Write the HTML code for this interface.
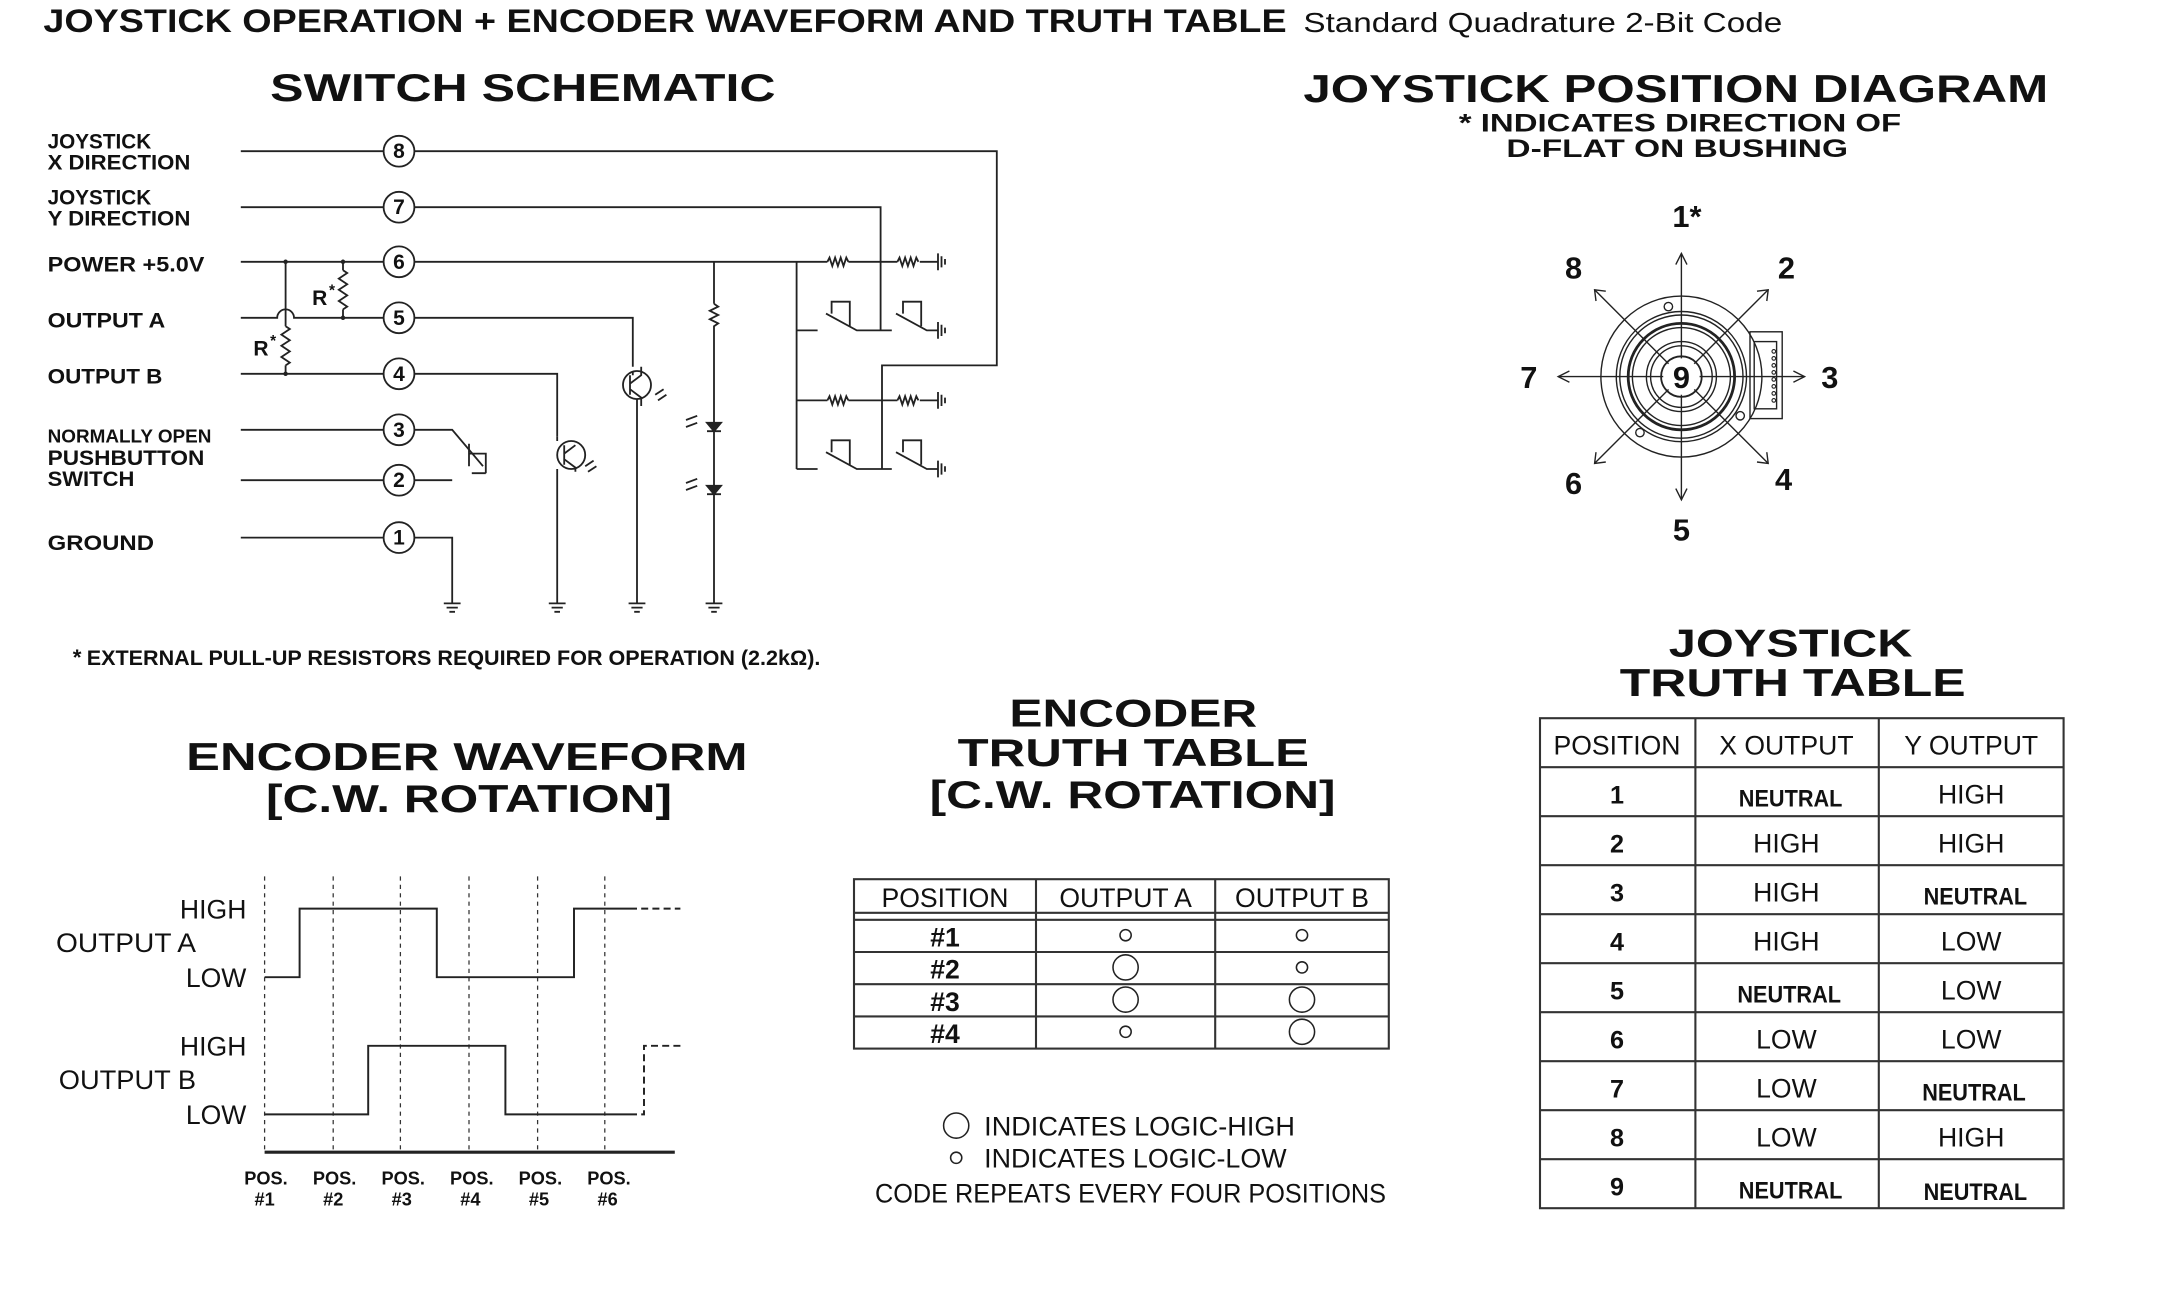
<!DOCTYPE html>
<html><head><meta charset="utf-8"><style>
html,body{margin:0;padding:0;background:#fff;}
svg{display:block;}
text{font-family:"Liberation Sans",sans-serif;fill:#111;}
</style></head><body>
<svg width="2174" height="1290" viewBox="0 0 1552.86 921.43" preserveAspectRatio="none" xmlns="http://www.w3.org/2000/svg">
<!-- Title -->
<text x="31" y="23" font-size="23" font-weight="bold" textLength="888" lengthAdjust="spacingAndGlyphs">JOYSTICK OPERATION + ENCODER WAVEFORM AND TRUTH TABLE</text>
<text x="931" y="23" font-size="20" textLength="342" lengthAdjust="spacingAndGlyphs">Standard Quadrature 2-Bit Code</text>

<text x="193" y="72" font-size="28" font-weight="bold" textLength="361" lengthAdjust="spacingAndGlyphs">SWITCH SCHEMATIC</text>
<text x="931" y="73" font-size="28" font-weight="bold" textLength="532" lengthAdjust="spacingAndGlyphs">JOYSTICK POSITION DIAGRAM</text>
<text x="1042" y="94" font-size="18" font-weight="bold" textLength="316" lengthAdjust="spacingAndGlyphs">* INDICATES DIRECTION OF</text>
<text x="1076" y="112" font-size="18" font-weight="bold" textLength="244" lengthAdjust="spacingAndGlyphs">D-FLAT ON BUSHING</text>

<g font-size="15" font-weight="bold">
<text x="34" y="106" textLength="74" lengthAdjust="spacingAndGlyphs">JOYSTICK</text>
<text x="34" y="121" textLength="102" lengthAdjust="spacingAndGlyphs">X DIRECTION</text>
<text x="34" y="146" textLength="74" lengthAdjust="spacingAndGlyphs">JOYSTICK</text>
<text x="34" y="161" textLength="102" lengthAdjust="spacingAndGlyphs">Y DIRECTION</text>
<text x="34" y="194" textLength="112" lengthAdjust="spacingAndGlyphs">POWER +5.0V</text>
<text x="34" y="234" textLength="84" lengthAdjust="spacingAndGlyphs">OUTPUT A</text>
<text x="34" y="274" textLength="82" lengthAdjust="spacingAndGlyphs">OUTPUT B</text>
<text x="34" y="316" font-size="13" textLength="117" lengthAdjust="spacingAndGlyphs">NORMALLY OPEN</text>
<text x="34" y="332" textLength="112" lengthAdjust="spacingAndGlyphs">PUSHBUTTON</text>
<text x="34" y="347" textLength="62" lengthAdjust="spacingAndGlyphs">SWITCH</text>
<text x="34" y="393" textLength="76" lengthAdjust="spacingAndGlyphs">GROUND</text>
<text x="181" y="254" textLength="12">R</text><text x="193" y="247" font-size="11">*</text>
<text x="223" y="218" textLength="12">R</text><text x="235" y="211" font-size="11">*</text>
<text x="52" y="475" font-size="16">*</text>
<text x="62" y="475" textLength="524" lengthAdjust="spacingAndGlyphs">EXTERNAL PULL-UP RESISTORS REQUIRED FOR OPERATION (2.2kΩ).</text>
</g>

<g stroke="#222" stroke-width="1.3" fill="none">
<path d="M172 108H274 M296 108H712V261H630V335"/>
<path d="M172 148H274 M296 148H629V236"/>
<path d="M172 187H274 M296 187H591 M606 187H641 M657 187H670"/>
<path d="M172 227H198 A6 6 0 0 1 210 227 H274 M296 227H452V262"/>
<path d="M172 267H274 M296 267H398V312"/>
<path d="M172 307H274 M296 307H323L345 333"/>
<path d="M172 343H274 M296 343H323"/>
<path d="M172 384H274 M296 384H323V431"/>
<path d="M204 187V233 M204 233l3 2-6 4 6 4-6 4 6 4-6 4 6 4-3 2 M204 261V267"/>
<path d="M245 187V193 M245 193l3 2-6 4 6 4-6 4 6 4-6 4 6 4-3 2 M245 221V227"/>
<path d="M335 317V333 M335 324H347V338 M337 338H347"/>
<circle cx="455" cy="275" r="10"/>
<path d="M452 265V268 M450 268V282 M450 274L458 268 V262 M450 278L458 284V290 M455 285V431"/>
<circle cx="408" cy="325" r="10"/>
<path d="M398 312V315 M403 318V332 M403 324L411 318 M403 328L411 334V337 M398 335V431"/>
<path d="M468 282l6-4 M470 286l6-4 M418 333l6-4 M420 337l6-4"/>
<path d="M510 187V217 M510 217l3 2-6 3 6 3-6 3 6 3-3 2V302 M510 308V347 M510 353V431"/>
<path d="M505 302h10l-5 6z M505 308h10 M505 347h10l-5 6z M505 353h10" fill="#222"/>
<path d="M490 300l8-3 M490 305l8-3 M490 345l8-3 M490 350l8-3"/>
<path d="M569 187V335 M569 236H584 M569 286H591 M606 286H641 M657 286H670 M569 335H584"/>
<path d="M591 187l1.5-3 2 6 2-6 2 6 2-6 2 6 2-6 1.5 3 M641 187l1.5-3 2 6 2-6 2 6 2-6 2 6 2-6 1.5 3"/>
<path d="M591 286l1.5-3 2 6 2-6 2 6 2-6 2 6 2-6 1.5 3 M641 286l1.5-3 2 6 2-6 2 6 2-6 2 6 2-6 1.5 3"/>
<path d="M590 224L612 236H637 M594 224V215.5H607V233 M640 224L662 236H670 M645 224V215.5H658V233"/>
<path d="M590 323L612 335H637 M594 323V314.5H607V332 M640 323L662 335H670 M645 323V314.5H658V332"/>
<path d="M670 181V193 M672.5 183V191 M675 185V189 M670 230V242 M672.5 232V240 M675 234V238 M670 280V292 M672.5 282V290 M675 284V288 M670 329V341 M672.5 331V339 M675 333V337"/>
<path d="M317 431H329 M319 434H327 M321 437H325 M392 431H404 M394 434H402 M396 437H400 M449 431H461 M451 434H459 M453 437H457 M504 431H516 M506 434H514 M508 437H512"/>
</g>
<g fill="#222">
<circle cx="204" cy="187" r="1.6"/><circle cx="245" cy="187" r="1.6"/><circle cx="245" cy="227" r="1.6"/><circle cx="204" cy="267" r="1.6"/>
</g>
<g stroke="#222" stroke-width="1.3" fill="#fff">
<circle cx="285" cy="108" r="11"/><circle cx="285" cy="148" r="11"/><circle cx="285" cy="187" r="11"/><circle cx="285" cy="227" r="11"/>
<circle cx="285" cy="267" r="11"/><circle cx="285" cy="307" r="11"/><circle cx="285" cy="343" r="11"/><circle cx="285" cy="384" r="11"/>
</g>
<g font-size="15" font-weight="bold">
<text x="285" y="113" text-anchor="middle">8</text><text x="285" y="153" text-anchor="middle">7</text><text x="285" y="192" text-anchor="middle">6</text><text x="285" y="232" text-anchor="middle">5</text>
<text x="285" y="272" text-anchor="middle">4</text><text x="285" y="312" text-anchor="middle">3</text><text x="285" y="348" text-anchor="middle">2</text><text x="285" y="389" text-anchor="middle">1</text>
</g>

<g stroke="#222" stroke-width="1" fill="none">
<rect x="1250" y="237" width="23" height="62"/>
<rect x="1253" y="244" width="16" height="48"/>
<circle cx="1201" cy="269" r="57.5"/>
<circle cx="1201" cy="269" r="46.5"/>
<circle cx="1201" cy="269" r="44"/>
<circle cx="1201" cy="269" r="38" stroke-width="2"/>
<circle cx="1201" cy="269" r="35"/>
<circle cx="1201" cy="269" r="25"/>
<circle cx="1201" cy="269" r="22"/>
<circle cx="1201" cy="269" r="14.5" stroke-width="1.3"/>
<circle cx="1191.7" cy="219" r="3"/><circle cx="1243" cy="297" r="3"/><circle cx="1171.4" cy="309" r="3"/>
<path d="M1201 181V357 M1113 269H1289 M1139 207L1263 331 M1263 207L1139 331"/>
<path d="M1197 189L1201 181L1205 189 M1197 349L1201 357L1205 349 M1121 265L1113 269L1121 273 M1281 265L1289 269L1281 273"/>
<path d="M1140 215L1139 207L1147 208 M1255 208L1263 207L1262 215 M1140 323L1139 331L1147 330 M1255 330L1263 331L1262 323"/>
</g>
<g fill="#fff" stroke="#222" stroke-width="0.8">
<circle cx="1267" cy="251" r="1.3"/><circle cx="1267" cy="256" r="1.3"/><circle cx="1267" cy="261" r="1.3"/><circle cx="1267" cy="266" r="1.3"/>
<circle cx="1267" cy="271" r="1.3"/><circle cx="1267" cy="276" r="1.3"/><circle cx="1267" cy="281" r="1.3"/><circle cx="1267" cy="286" r="1.3"/>
</g>
<circle cx="1201" cy="269" r="13" fill="#fff"/>
<g font-size="22" font-weight="bold">
<text x="1201" y="277" text-anchor="middle">9</text>
<text x="1205" y="162" text-anchor="middle">1*</text>
<text x="1124" y="199" text-anchor="middle">8</text>
<text x="1276" y="199" text-anchor="middle">2</text>
<text x="1092" y="277" text-anchor="middle">7</text>
<text x="1307" y="277" text-anchor="middle">3</text>
<text x="1124" y="353" text-anchor="middle">6</text>
<text x="1274" y="350" text-anchor="middle">4</text>
<text x="1201" y="386" text-anchor="middle">5</text>
</g>

<!-- Joystick truth table -->
<text x="1192" y="469" font-size="28" font-weight="bold" textLength="174" lengthAdjust="spacingAndGlyphs">JOYSTICK</text>
<text x="1157" y="497" font-size="28" font-weight="bold" textLength="247" lengthAdjust="spacingAndGlyphs">TRUTH TABLE</text>
<g transform="translate(0,-4)">
<g stroke="#333" stroke-width="1.5" fill="none">
<rect x="1100" y="517" width="374" height="350"/>
<path d="M1211 517V867 M1342 517V867"/>
<path d="M1100 552H1474 M1100 587H1474 M1100 622H1474 M1100 657H1474 M1100 692H1474 M1100 727H1474 M1100 762H1474 M1100 797H1474 M1100 832H1474"/>
</g>
<g font-size="19">
<text x="1155" y="543" text-anchor="middle">POSITION</text><text x="1276" y="543" text-anchor="middle">X OUTPUT</text><text x="1408" y="543" text-anchor="middle">Y OUTPUT</text>
<g font-weight="bold" font-size="18">
<text x="1155" y="578" text-anchor="middle">1</text><text x="1155" y="613" text-anchor="middle">2</text><text x="1155" y="648" text-anchor="middle">3</text>
<text x="1155" y="683" text-anchor="middle">4</text><text x="1155" y="718" text-anchor="middle">5</text><text x="1155" y="753" text-anchor="middle">6</text>
<text x="1155" y="788" text-anchor="middle">7</text><text x="1155" y="823" text-anchor="middle">8</text><text x="1155" y="858" text-anchor="middle">9</text>
</g>
<text x="1279" y="580" text-anchor="middle" font-weight="bold" font-size="17" textLength="74" lengthAdjust="spacingAndGlyphs">NEUTRAL</text>
<text x="1408" y="578" text-anchor="middle">HIGH</text>
<text x="1276" y="613" text-anchor="middle">HIGH</text><text x="1408" y="613" text-anchor="middle">HIGH</text>
<text x="1276" y="648" text-anchor="middle">HIGH</text>
<text x="1411" y="650" text-anchor="middle" font-weight="bold" font-size="17" textLength="74" lengthAdjust="spacingAndGlyphs">NEUTRAL</text>
<text x="1276" y="683" text-anchor="middle">HIGH</text><text x="1408" y="683" text-anchor="middle">LOW</text>
<text x="1278" y="720" text-anchor="middle" font-weight="bold" font-size="17" textLength="74" lengthAdjust="spacingAndGlyphs">NEUTRAL</text>
<text x="1408" y="718" text-anchor="middle">LOW</text>
<text x="1276" y="753" text-anchor="middle">LOW</text><text x="1408" y="753" text-anchor="middle">LOW</text>
<text x="1276" y="788" text-anchor="middle">LOW</text>
<text x="1410" y="790" text-anchor="middle" font-weight="bold" font-size="17" textLength="74" lengthAdjust="spacingAndGlyphs">NEUTRAL</text>
<text x="1276" y="823" text-anchor="middle">LOW</text><text x="1408" y="823" text-anchor="middle">HIGH</text>
<text x="1279" y="860" text-anchor="middle" font-weight="bold" font-size="17" textLength="74" lengthAdjust="spacingAndGlyphs">NEUTRAL</text>
<text x="1411" y="861" text-anchor="middle" font-weight="bold" font-size="17" textLength="74" lengthAdjust="spacingAndGlyphs">NEUTRAL</text>
</g>
</g>

<!-- Encoder waveform -->
<text x="133" y="550" font-size="28" font-weight="bold" textLength="401" lengthAdjust="spacingAndGlyphs">ENCODER WAVEFORM</text>
<text x="190" y="580" font-size="28" font-weight="bold" textLength="290" lengthAdjust="spacingAndGlyphs">[C.W. ROTATION]</text>
<g transform="translate(0,-5)">
<g stroke="#333" stroke-width="0.9" stroke-dasharray="3,3" fill="none">
<path d="M189 631V828 M238 631V828 M286 631V828 M335 631V828 M384 631V828 M432 631V828"/>
</g>
<g stroke="#222" stroke-width="1.4" fill="none">
<path d="M189 703H214V654H312V703H410V654H450"/>
<path d="M189 801H263V752H361V801H450"/>
<path d="M450 654H486 M450 801H460V752H486" stroke-dasharray="5,3"/>
<path d="M189 828H482" stroke-width="2.2"/>
</g>
<g font-size="19">
<text x="176" y="661" text-anchor="end">HIGH</text>
<text x="40" y="685" textLength="100" lengthAdjust="spacingAndGlyphs">OUTPUT A</text>
<text x="176" y="710" text-anchor="end">LOW</text>
<text x="176" y="759" text-anchor="end">HIGH</text>
<text x="42" y="783" textLength="98" lengthAdjust="spacingAndGlyphs">OUTPUT B</text>
<text x="176" y="808" text-anchor="end">LOW</text>
</g>
</g>
<g font-size="13" font-weight="bold" transform="translate(0,-3)">
<text x="190" y="849" text-anchor="middle">POS.</text><text x="189" y="864" text-anchor="middle">#1</text>
<text x="239" y="849" text-anchor="middle">POS.</text><text x="238" y="864" text-anchor="middle">#2</text>
<text x="288" y="849" text-anchor="middle">POS.</text><text x="287" y="864" text-anchor="middle">#3</text>
<text x="337" y="849" text-anchor="middle">POS.</text><text x="336" y="864" text-anchor="middle">#4</text>
<text x="386" y="849" text-anchor="middle">POS.</text><text x="385" y="864" text-anchor="middle">#5</text>
<text x="435" y="849" text-anchor="middle">POS.</text><text x="434" y="864" text-anchor="middle">#6</text>
</g>

<!-- Encoder truth table -->
<g transform="translate(0,-4)">
<text x="721" y="523" font-size="28" font-weight="bold" textLength="177" lengthAdjust="spacingAndGlyphs">ENCODER</text>
<text x="684" y="551" font-size="28" font-weight="bold" textLength="251" lengthAdjust="spacingAndGlyphs">TRUTH TABLE</text>
<text x="664" y="581" font-size="28" font-weight="bold" textLength="290" lengthAdjust="spacingAndGlyphs">[C.W. ROTATION]</text>
<g stroke="#333" stroke-width="1.5" fill="none">
<rect x="610" y="632" width="382" height="121"/>
<path d="M740 632V753 M868 632V753 M610 656H992 M610 661H992 M610 684H992 M610 707H992 M610 730H992"/>
</g>
<g font-size="19">
<text x="675" y="652" text-anchor="middle">POSITION</text><text x="804" y="652" text-anchor="middle">OUTPUT A</text><text x="930" y="652" text-anchor="middle">OUTPUT B</text>
<g font-weight="bold">
<text x="675" y="680" text-anchor="middle">#1</text><text x="675" y="703" text-anchor="middle">#2</text><text x="675" y="726" text-anchor="middle">#3</text><text x="675" y="749" text-anchor="middle">#4</text>
</g>
</g>
<g stroke="#222" stroke-width="1.1" fill="none">
<circle cx="804" cy="672" r="4"/><circle cx="930" cy="672" r="4"/>
<circle cx="804" cy="695" r="9"/><circle cx="930" cy="695" r="4"/>
<circle cx="804" cy="718" r="9"/><circle cx="930" cy="718" r="9"/>
<circle cx="804" cy="741" r="4"/><circle cx="930" cy="741" r="9"/>
</g>
</g>
<g transform="translate(0,-7)">
<g stroke="#222" stroke-width="1.1" fill="none">
<circle cx="683" cy="811" r="9"/><circle cx="683" cy="834" r="4"/>
</g>
<g font-size="19">
<text x="703" y="818" textLength="222" lengthAdjust="spacingAndGlyphs">INDICATES LOGIC-HIGH</text>
<text x="703" y="841" textLength="216" lengthAdjust="spacingAndGlyphs">INDICATES LOGIC-LOW</text>
<text x="625" y="866" textLength="365" lengthAdjust="spacingAndGlyphs">CODE REPEATS EVERY FOUR POSITIONS</text>
</g>
</g>
</svg>
</body></html>
